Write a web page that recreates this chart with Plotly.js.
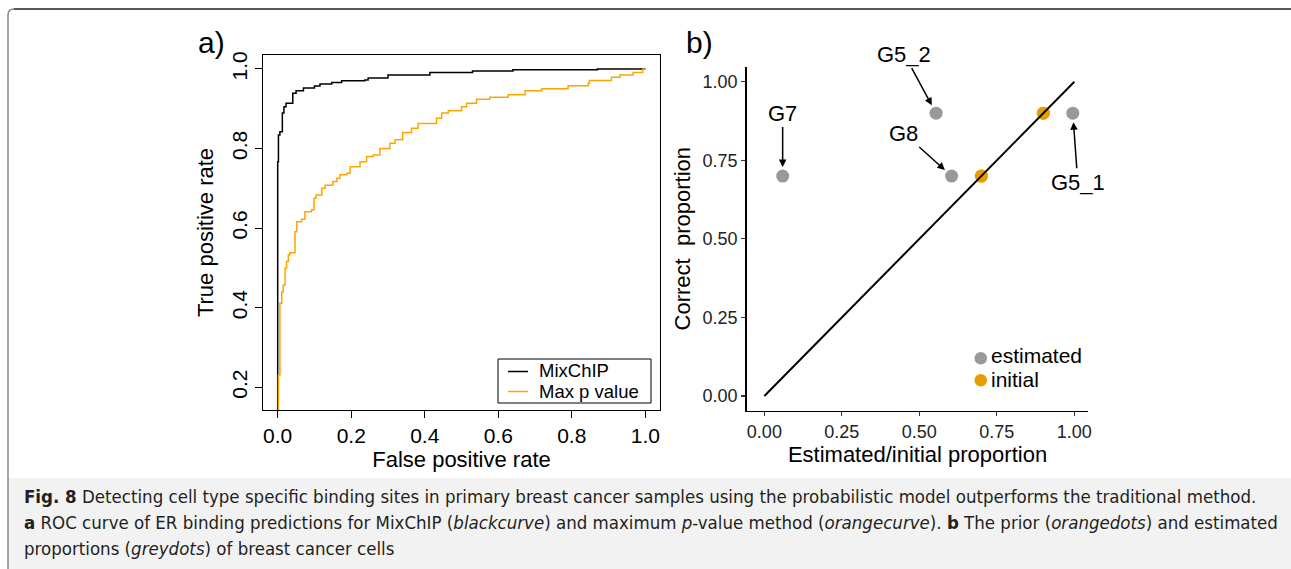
<!DOCTYPE html>
<html><head><meta charset="utf-8">
<script src="https://cdn.plot.ly/plotly-3.0.1.min.js"></script>
<style>html,body{margin:0;padding:0;background:#fff;} #chart{width:1291px;height:569px;}</style>
</head><body><div id="chart"></div>
<script>
// ---------- data ----------
const mixFpr = [0, 0, 0.002, 0.006, 0.0126, 0.017, 0.0226, 0.041, 0.05, 0.07, 0.10, 0.115, 0.147, 0.174, 0.237, 0.246, 0.30, 0.414, 0.53, 0.64, 0.87, 1.0];
const mixTpr = [0, 0.767, 0.834, 0.842, 0.889, 0.905, 0.914, 0.939, 0.945, 0.952, 0.957, 0.962, 0.966, 0.970, 0.972, 0.977, 0.985, 0.991, 0.995, 0.998, 1.0, 1.0];
const maxpFpr = [0, 0.002, 0.006, 0.011, 0.015, 0.02, 0.024, 0.029, 0.033, 0.047, 0.052, 0.065, 0.074, 0.092, 0.099, 0.104, 0.12, 0.129, 0.15, 0.161, 0.169, 0.188, 0.197, 0.224, 0.242, 0.26, 0.278, 0.305, 0.319, 0.34, 0.364, 0.382, 0.432, 0.446, 0.464, 0.50, 0.514, 0.541, 0.577, 0.627, 0.673, 0.718, 0.79, 0.845, 0.848, 0.908, 0.931, 0.967, 0.993, 1.0];
const maxpTpr = [0, 0.231, 0.411, 0.44, 0.457, 0.499, 0.516, 0.533, 0.538, 0.591, 0.616, 0.622, 0.641, 0.646, 0.675, 0.683, 0.70, 0.708, 0.717, 0.725, 0.734, 0.738, 0.754, 0.767, 0.78, 0.784, 0.80, 0.813, 0.822, 0.84, 0.851, 0.863, 0.876, 0.889, 0.895, 0.905, 0.914, 0.924, 0.929, 0.935, 0.945, 0.95, 0.958, 0.964, 0.971, 0.979, 0.985, 0.991, 0.999, 1.0];
const rocTickVals = [0, 0.2, 0.4, 0.6, 0.8, 1.0];
const rocSeriesNames = ['MixChIP', 'Max p value'];

const estLabels = ['G7', 'G5_2', 'G8', 'G5_1'];
const estX = [0.059, 0.554, 0.604, 0.995];
const estY = [0.70, 0.90, 0.70, 0.90];
const initX = [0.70, 0.70, 0.90, 0.90];
const initY = [0.70, 0.70, 0.90, 0.90];
const diagX = [0, 1];
const diagY = [0, 1];
const propTickVals = [0, 0.25, 0.5, 0.75, 1.0];
const propSeriesNames = ['estimated', 'initial'];

const captionLines = [
  '<b>Fig. 8</b> Detecting cell type specific binding sites in primary breast cancer samples using the probabilistic model outperforms the traditional method.',
  '<b>a</b> ROC curve of ER binding predictions for MixChIP (<i>blackcurve</i>) and maximum <i>p</i>-value method (<i>orangecurve</i>). <b>b</b> The prior (<i>orangedots</i>) and estimated',
  'proportions (<i>greydots</i>) of breast cancer cells'
];

// ---------- layout helpers ----------
const W = 1291, H = 569;
const PX = p => p / W;
const PY = p => 1 - p / H;
const FONT = 'Liberation Sans, Arial, Helvetica, sans-serif';
const CAPFONT = 'DejaVu Sans Condensed, Liberation Sans Narrow, sans-serif';
const ORANGE_A = '#FFA500', GREY = '#999999', ORANGE_B = '#E69F00';

const traces = [
  {x: mixFpr, y: mixTpr, xaxis: 'x', yaxis: 'y', mode: 'lines', line: {shape: 'hv', color: '#000', width: 1.5}, name: rocSeriesNames[0], showlegend: false},
  {x: maxpFpr, y: maxpTpr, xaxis: 'x', yaxis: 'y', mode: 'lines', line: {shape: 'hv', color: ORANGE_A, width: 1.5}, name: rocSeriesNames[1], showlegend: false},
  {x: estX, y: estY, text: estLabels, xaxis: 'x2', yaxis: 'y2', mode: 'markers', marker: {color: GREY, size: 13}, name: propSeriesNames[0], showlegend: false},
  {x: initX, y: initY, xaxis: 'x2', yaxis: 'y2', mode: 'markers', marker: {color: ORANGE_B, size: 13}, name: propSeriesNames[1], showlegend: false},
  {x: diagX, y: diagY, xaxis: 'x2', yaxis: 'y2', mode: 'lines', line: {color: '#000', width: 2}, showlegend: false, hoverinfo: 'skip'}
];

// label offsets (pixels) from each estimated point to its label
const labelOffsets = [[0, -63], [-32, -59], [-48, -43], [5, 69]];

const annotations = [];
estLabels.forEach((lab, i) => {
  annotations.push({xref: 'x2', yref: 'y2', x: estX[i], y: estY[i], text: lab, showarrow: true,
    ax: labelOffsets[i][0], ay: labelOffsets[i][1], arrowhead: 2, arrowsize: 1, arrowwidth: 1.5, arrowcolor: '#000',
    standoff: 9, font: {family: FONT, size: 22, color: '#000'}});
});
function paperText(x, y, text, size, xanchor, family, color) {
  annotations.push({xref: 'paper', yref: 'paper', x: PX(x), y: PY(y), xanchor: xanchor, yanchor: 'middle',
    text: text, showarrow: false, font: {family: family || FONT, size: size, color: color || '#000'}});
}
// panel letters
paperText(211, 42, 'a)', 30, 'center');
paperText(700, 42, 'b)', 30, 'center');
// panel a legend text
paperText(537, 370.5, rocSeriesNames[0], 18.5, 'left');
paperText(537, 391.5, rocSeriesNames[1], 18.5, 'left');
// panel b legend text
paperText(989, 355.5, propSeriesNames[0], 21, 'left');
paperText(989, 379.5, propSeriesNames[1], 21, 'left');
// caption
const capY = [496, 522, 548];
captionLines.forEach((t, i) => paperText(22, capY[i], t, 18.5, 'left', CAPFONT, '#231f20'));

const shapes = [
  // caption background
  {type: 'rect', xref: 'paper', yref: 'paper', x0: PX(8), x1: PX(1291), y0: PY(569), y1: PY(478), fillcolor: '#f2f2f2', line: {width: 0}, layer: 'below'},
  // frame
  {type: 'path', xref: 'paper', yref: 'paper', path: `M ${PX(8)} ${PY(569)} L ${PX(8)} ${PY(15)} Q ${PX(8)} ${PY(9)} ${PX(14)} ${PY(9)}`, line: {color: '#888', width: 1.5}},
  {type: 'line', xref: 'paper', yref: 'paper', x0: PX(14), x1: PX(1291), y0: PY(9), y1: PY(9), line: {color: '#222', width: 1.5}},
  // panel a legend box and keys
  {type: 'rect', xref: 'paper', yref: 'paper', x0: PX(498), x1: PX(651), y0: PY(403), y1: PY(359), line: {color: '#000', width: 1}, fillcolor: 'rgba(0,0,0,0)'},
  {type: 'line', xref: 'paper', yref: 'paper', x0: PX(508), x1: PX(528), y0: PY(371.5), y1: PY(371.5), line: {color: '#000', width: 1.5}},
  {type: 'line', xref: 'paper', yref: 'paper', x0: PX(508), x1: PX(528), y0: PY(391.5), y1: PY(391.5), line: {color: ORANGE_A, width: 1.5}},
  // panel b legend keys
  {type: 'circle', xref: 'paper', yref: 'paper', x0: PX(974.5), x1: PX(987), y0: PY(364.5), y1: PY(352), fillcolor: GREY, line: {width: 0}},
  {type: 'circle', xref: 'paper', yref: 'paper', x0: PX(974.5), x1: PX(987), y0: PY(386.5), y1: PY(374), fillcolor: ORANGE_B, line: {width: 0}}
];

const layout = {
  width: W, height: H,
  margin: {l: 0, r: 0, t: 0, b: 0},
  paper_bgcolor: '#fff', plot_bgcolor: 'rgba(0,0,0,0)',
  showlegend: false,
  font: {family: FONT, color: '#000'},
  xaxis: {domain: [PX(263), PX(660)], range: [-0.04, 1.04], anchor: 'y',
    tickvals: rocTickVals, tickformat: '.1f', ticks: 'outside', ticklen: 7, tickwidth: 1, tickcolor: '#000',
    showline: true, mirror: true, linecolor: '#000', linewidth: 1, showgrid: false, zeroline: false,
    tickfont: {family: FONT, size: 21, color: '#000'},
    title: {text: 'False positive rate', font: {family: FONT, size: 22, color: '#000'}, standoff: 1}},
  yaxis: {domain: [PY(410), PY(55)], range: [0.143, 1.035], anchor: 'x',
    tickvals: rocTickVals, tickformat: '.1f', ticks: 'outside', ticklen: 7, tickwidth: 1, tickcolor: '#000', tickangle: -90,
    showline: true, mirror: true, linecolor: '#000', linewidth: 1, showgrid: false, zeroline: false,
    tickfont: {family: FONT, size: 21, color: '#000'},
    title: {text: 'True positive rate', font: {family: FONT, size: 22, color: '#000'}, standoff: 7}},
  xaxis2: {domain: [PX(746.7), PX(1088.3)], range: [-0.057, 1.045], anchor: 'y2',
    tickvals: propTickVals, tickformat: '.2f', ticks: 'outside', ticklen: 4, tickwidth: 1.2, tickcolor: '#333',
    showline: true, linecolor: '#000', linewidth: 1.6, showgrid: false, zeroline: false,
    tickfont: {family: FONT, size: 18, color: '#222'},
    title: {text: 'Estimated/initial proportion', font: {family: FONT, size: 22, color: '#000'}, standoff: 3}},
  yaxis2: {domain: [PY(410.7), PY(66.7)], range: [-0.047, 1.048], anchor: 'x2',
    tickvals: propTickVals, tickformat: '.2f', ticks: 'outside', ticklen: 4, tickwidth: 1.2, tickcolor: '#333',
    showline: true, linecolor: '#000', linewidth: 1.6, showgrid: false, zeroline: false,
    tickfont: {family: FONT, size: 18, color: '#222'},
    title: {text: 'Correct  proportion', font: {family: FONT, size: 22, color: '#000'}, standoff: 6}},
  annotations: annotations,
  shapes: shapes
};

Plotly.newPlot('chart', traces, layout, {displayModeBar: false, staticPlot: true});
</script>
</body></html>
